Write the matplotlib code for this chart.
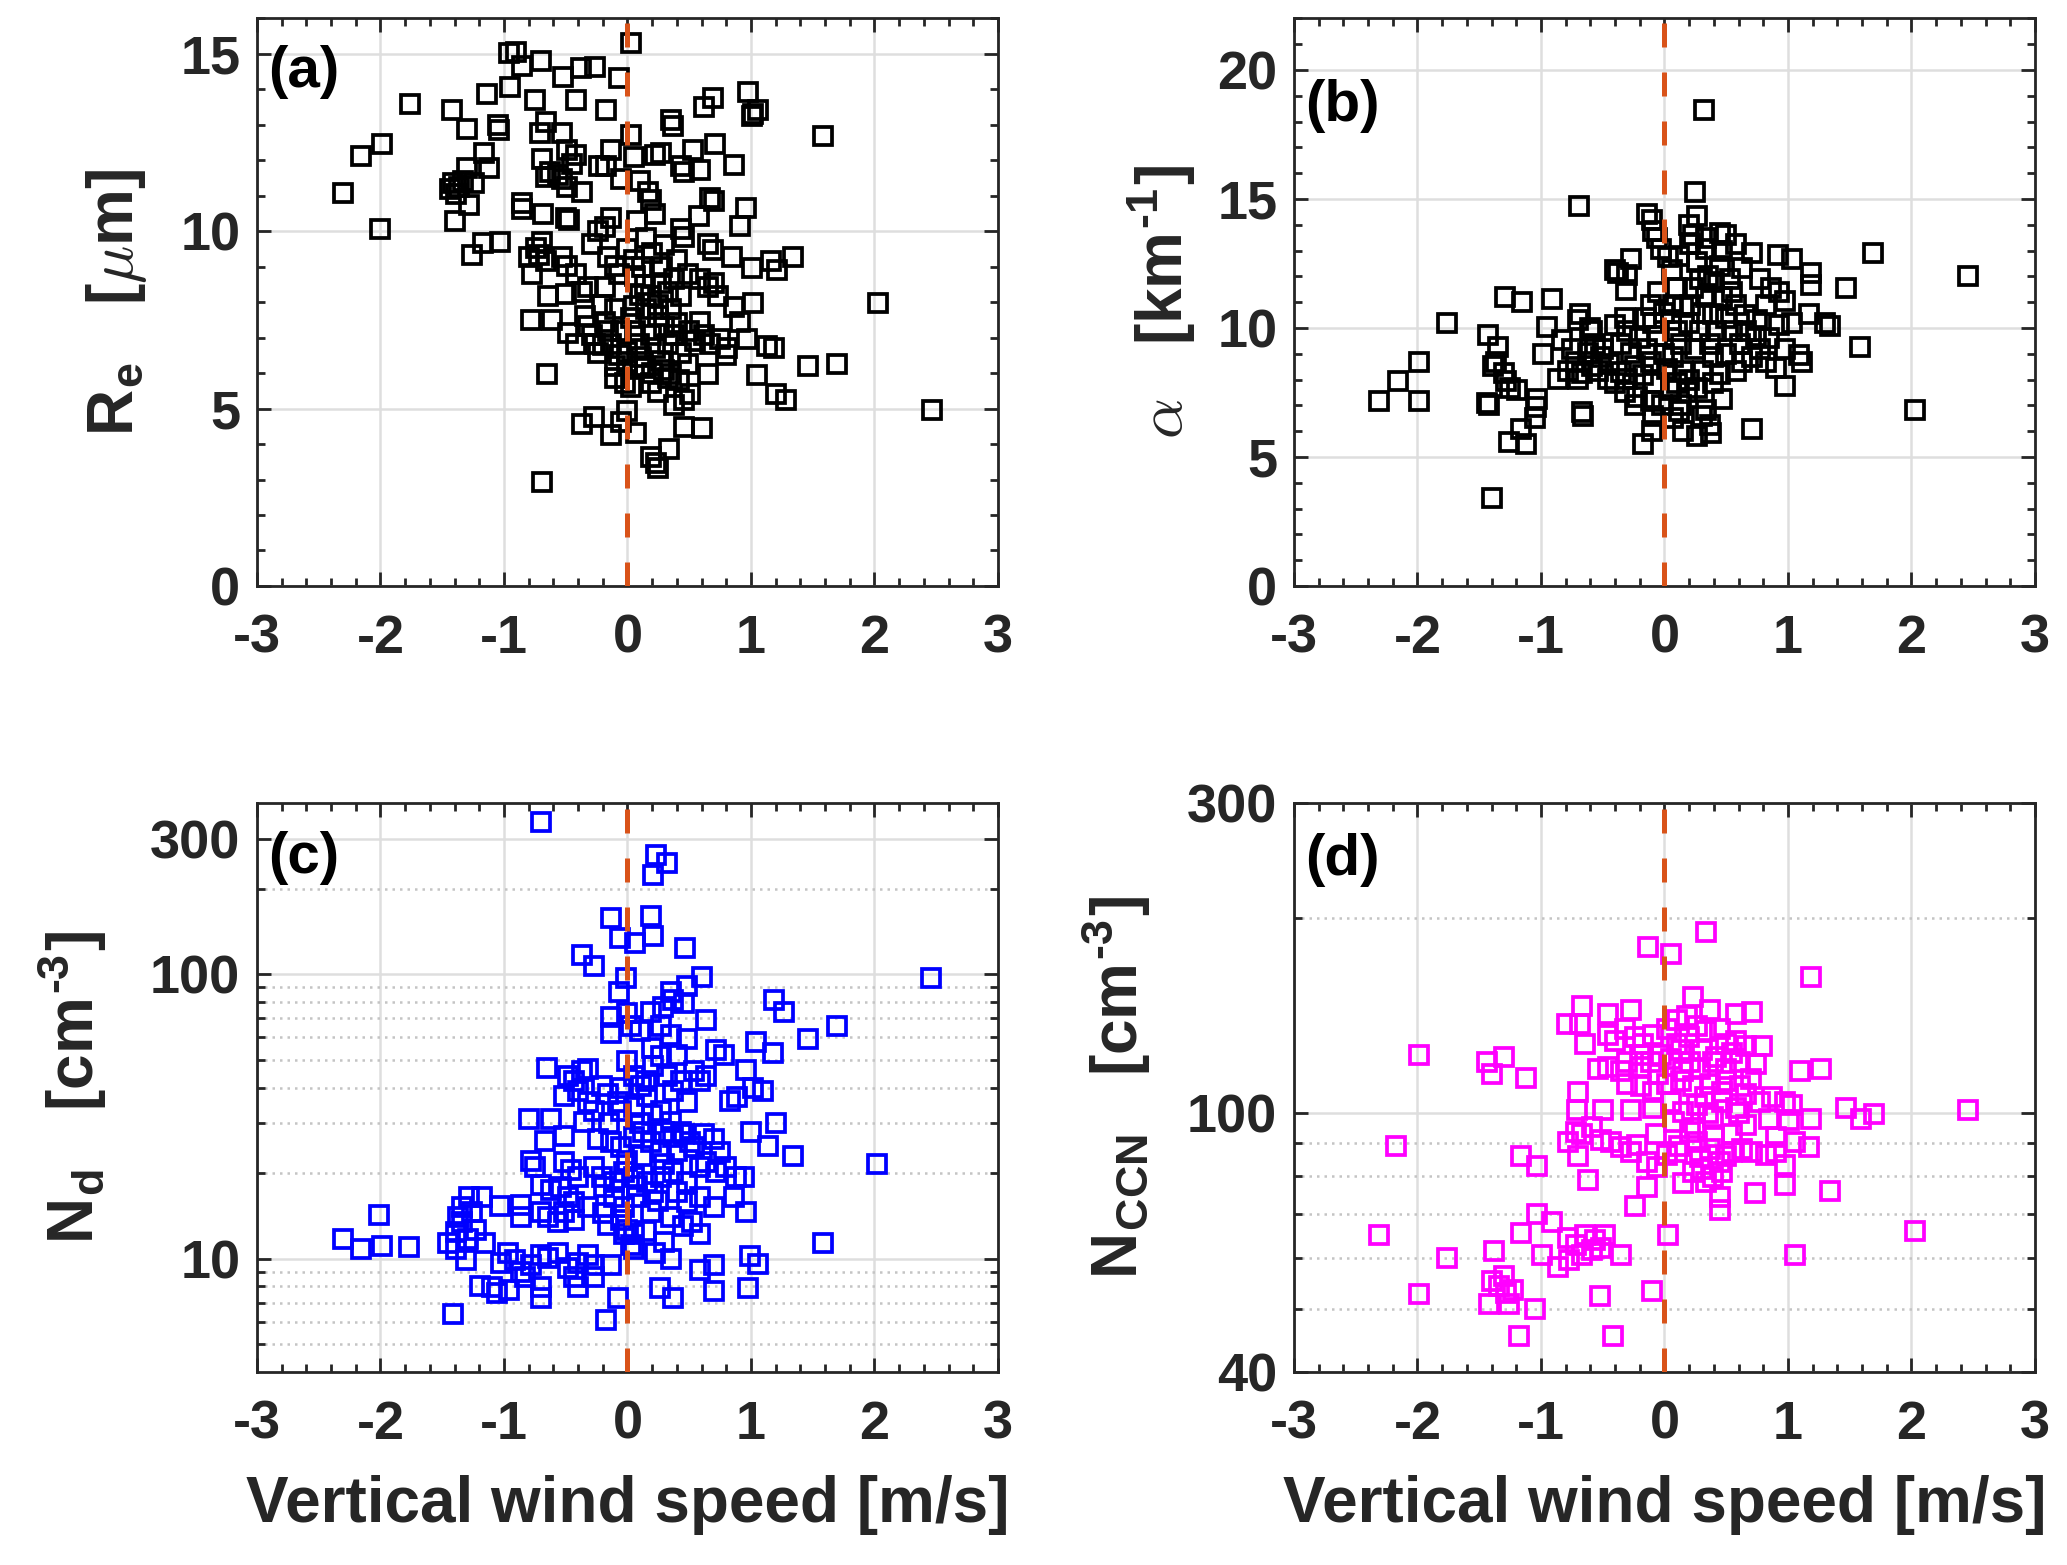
import numpy as np
import matplotlib
matplotlib.use("Agg")
import matplotlib.pyplot as plt
from matplotlib.ticker import FixedLocator, NullFormatter, MultipleLocator

# ---- data ----
# (a) effective radius vs vertical wind
w_re = [-2.30, -2.16, -1.99, -2.00, -1.76, -1.42, -1.30, -1.44, -1.41, -1.39,
        -1.36, -1.33, -1.28, -1.40, -1.24, -1.30, -1.12, -1.16, -1.14, -1.26,
        -1.17, -1.03, -1.05, -1.04, -0.96, -0.90, -0.95, -0.85, -0.75, -0.70,
        -0.66, -0.71, -0.53, -0.69, -0.63, -0.66, -0.49, -0.42, -0.52, -0.42,
        -0.38, -0.26, -0.07, -0.17, 0.03, 0.03, -0.13, 0.05, -0.23, -0.17,
        -0.45, -0.56, -0.53, -0.49, -0.37, -0.05, -0.85, -0.85, -0.68, -0.50,
        -0.47, 0.22, 0.27, 0.35, 0.37, 0.62, 0.69, 0.53, 0.71, 0.43,
        0.46, 0.59, 0.86, 0.98, 1.02, 1.06, 1.01, 1.58, 0.10, 0.17,
        0.19, 0.22, 0.67, 0.70, 0.96, 0.91, 0.58, 0.43, 0.46, 0.65,
        0.69, 0.85, 1.01, 1.16, 1.21, 1.34, -0.29, -0.24, -0.18, -0.13,
        -0.80, -0.74, -0.72, -0.69, -0.66, -0.77, -0.53, -0.49, -0.42, -0.64,
        -0.50, -0.37, -0.32, -0.16, -0.10, -0.07, -0.18, 0.06, 0.14, 0.19,
        0.25, 0.27, 0.33, 0.38, 0.43, 0.49, 0.59, 0.65, 0.70, 0.73,
        1.02, 0.86, 2.03, -0.78, -0.61, -0.48, -0.42, -0.34, -0.32, -0.29,
        -0.26, -0.24, -0.21, -0.18, -0.16, -0.13, -0.07, -0.10, 0.03, 0.06,
        0.09, 0.11, 0.14, 0.19, 0.22, 0.27, 0.33, 0.38, 0.43, 0.49,
        0.35, 0.59, 0.62, 0.67, 0.75, 0.81, 0.91, 0.97, 1.13, 1.19,
        0.80, 0.65, 1.05, 1.20, 1.28, 1.46, 1.70, 2.47, -0.65, -0.10,
        -0.02, 0.03, 0.19, 0.25, 0.33, 0.38, 0.46, 0.51, -0.37, -0.27,
        -0.13, -0.05, 0.00, 0.07, 0.46, 0.60, 0.19, 0.23, 0.25, 0.34,
        -0.69,
        0.00, 0.05, 0.12, 0.20, 0.30, 0.28, 0.40, 0.15, 0.25, 0.35,
        0.40, 0.50, 0.55, 0.30, -0.05, -0.20, 0.00, 0.10, 0.20, 0.30,
        0.42, 0.00, 0.05, 0.10, -0.10, 0.15, 0.08]
re = [11.08, 12.12, 12.46, 10.05, 13.59, 13.42, 12.88, 11.18, 11.36, 11.05,
      11.24, 11.42, 10.75, 10.28, 11.36, 11.79, 11.79, 12.22, 13.87, 9.34,
      9.68, 9.71, 13.00, 12.85, 15.04, 15.06, 14.06, 14.67, 13.71, 14.79,
      13.08, 12.77, 12.77, 12.03, 11.67, 11.54, 12.28, 12.16, 14.36, 13.71,
      14.61, 14.63, 14.33, 13.42, 15.32, 12.71, 12.28, 12.10, 11.85, 11.85,
      11.91, 11.60, 11.48, 11.24, 11.12, 11.48, 10.81, 10.62, 10.50, 10.38,
      10.32, 12.16, 12.22, 13.14, 12.98, 13.50, 13.75, 12.28, 12.46, 11.85,
      11.67, 11.73, 11.87, 13.93, 13.30, 13.42, 13.24, 12.68, 11.42, 11.10,
      10.87, 10.50, 10.93, 10.85, 10.65, 10.16, 10.44, 10.07, 9.83, 9.65,
      9.46, 9.28, 8.97, 9.15, 8.91, 9.28, 9.65, 10.01, 10.13, 10.38,
      9.28, 9.52, 9.34, 9.71, 9.15, 8.79, 9.28, 9.03, 8.79, 8.17,
      8.24, 8.30, 8.42, 9.28, 9.03, 8.79, 8.42, 8.73, 8.48, 8.17,
      7.93, 8.54, 8.30, 8.66, 8.17, 8.79, 8.66, 8.42, 8.54, 8.17,
      7.99, 7.87, 7.99, 7.50, 7.50, 7.13, 6.83, 7.62, 7.32, 7.07,
      6.83, 6.58, 7.93, 7.44, 7.19, 6.83, 6.52, 6.21, 7.56, 7.19,
      6.83, 6.46, 6.15, 7.07, 6.70, 6.34, 6.83, 7.07, 6.58, 6.27,
      5.97, 7.44, 7.07, 6.83, 6.95, 6.70, 7.44, 6.95, 6.76, 6.70,
      6.52, 5.97, 5.94, 5.42, 5.23, 6.21, 6.25, 4.96, 5.97, 5.85,
      5.72, 5.60, 5.72, 5.48, 5.85, 5.11, 5.23, 5.42, 4.56, 4.77,
      4.25, 4.62, 4.93, 4.31, 4.47, 4.44, 3.64, 3.46, 3.33, 3.86,
      2.93,
      9.5, 9.2, 9.0, 9.4, 9.6, 9.0, 9.2, 7.8, 7.6, 7.8,
      7.4, 7.2, 6.9, 7.3, 7.2, 6.8, 6.6, 6.2, 6.0, 6.1,
      5.8, 6.3, 7.9, 8.2, 7.8, 9.8, 10.3]

# (b) extinction coefficient
w_alpha = [-2.31, -2.16, -1.99, -1.99, -1.76, -1.43, -1.35, -1.39, -1.36, -1.30,
           -1.28, -1.25, -1.19, -1.42, -1.44, -1.29, -1.15, -0.91, -1.03, -1.04,
           -1.05, -1.16, -1.26, -1.12, -1.40, -0.95, -0.98, -0.86, -0.83, -0.75,
           -0.72, -0.78, -0.67, -0.70, -0.69, -0.67, -0.66, -0.68, -0.70, -0.59,
           -0.56, -0.51, -0.54, -0.46, -0.40, -0.62, -0.59, -0.40, -0.38, -0.27,
           -0.30, -0.31, -0.40, -0.32, -0.30, -0.35, -0.27, -0.24, -0.30, -0.32,
           -0.22, -0.24, -0.14, -0.10, -0.09, -0.06, -0.03, -0.17, -0.10, -0.11,
           -0.09, -0.06, -0.14, -0.11, -0.17, -0.09, -0.11, -0.09, 0.03, 0.06,
           0.10, 0.07, 0.05, 0.10, 0.13, 0.07, 0.15, 0.10, 0.18, 0.13,
           0.07, 0.15, 0.25, 0.32, 0.26, 0.20, 0.23, 0.21, 0.34, 0.45,
           0.50, 0.47, 0.58, 0.34, 0.26, 0.29, 0.34, 0.39, 0.23, 0.21,
           0.45, 0.53, 0.47, 0.58, 0.63, 0.71, 0.77, 0.82, 0.29, 0.37,
           0.39, 0.31, 0.26, 0.39, 0.47, 0.34, 0.26, 0.37, 0.55, 0.61,
           0.66, 0.74, 0.63, 0.71, 0.58, 0.77, 0.82, 0.71, 0.92, 1.03,
           0.86, 0.93, 0.98, 0.93, 1.03, 1.17, 1.19, 1.19, 1.30, 1.34,
           0.98, 1.09, 1.11, 0.90, 0.98, 1.47, 1.58, 1.69, 2.03, 2.46,
           0.38,
           -0.50, -0.45, -0.20, -0.15, 0.00, 0.00, 0.02, 0.05, 0.15, 0.20,
           0.25, 0.30, 0.40, 0.42, 0.50, 0.50, 0.55, 0.65, 0.75, 0.85,
           -0.05, 0.12, 0.35, -0.60, -0.35, 0.20, 0.45, 0.30, 0.12, -0.02]
alpha = [7.17, 7.93, 7.17, 8.69, 10.21, 9.74, 9.28, 8.52, 8.69, 8.27,
         7.93, 7.68, 7.60, 7.00, 7.09, 11.22, 11.00, 11.14, 7.26, 6.92,
         6.50, 6.08, 5.57, 5.49, 3.41, 10.04, 8.99, 8.02, 9.54, 9.20,
         8.69, 8.35, 8.27, 8.02, 14.73, 6.75, 6.58, 10.55, 10.30, 9.87,
         9.37, 8.86, 8.35, 8.02, 7.85, 9.03, 8.52, 12.24, 12.15, 12.66,
         12.07, 11.48, 10.13, 10.38, 9.87, 9.37, 9.03, 8.52, 8.02, 7.51,
         7.34, 7.00, 14.43, 14.18, 13.75, 13.50, 13.08, 5.49, 5.99, 10.89,
         10.21, 9.70, 9.20, 8.69, 8.19, 7.85, 7.17, 6.58, 12.74, 12.24,
         11.56, 10.89, 10.30, 9.87, 9.37, 8.86, 8.35, 7.85, 7.51, 7.00,
         6.50, 5.99, 15.27, 18.45, 14.35, 14.00, 13.59, 13.25, 13.50, 13.67,
         13.59, 13.00, 13.25, 13.08, 12.57, 11.90, 11.22, 10.55, 11.56, 10.89,
         12.41, 11.90, 11.22, 10.89, 12.32, 12.91, 11.90, 10.89, 9.87, 9.37,
         8.86, 8.35, 7.68, 7.85, 7.26, 6.84, 5.82, 6.24, 9.87, 9.37,
         9.87, 9.70, 8.69, 8.86, 8.35, 9.20, 8.69, 6.08, 12.83, 12.66,
         11.56, 11.39, 11.05, 10.13, 10.21, 10.55, 12.15, 11.65, 10.21, 10.08,
         9.20, 8.95, 8.69, 8.44, 7.76, 11.56, 9.25, 12.91, 6.84, 12.02,
         5.91,
         9.2, 8.6, 9.6, 10.4, 10.6, 9.0, 8.4, 7.6, 10.8, 10.2,
         9.2, 10.6, 11.8, 9.9, 10.4, 9.0, 11.4, 10.5, 10.3, 9.6,
         11.4, 12.8, 12.0, 10.0, 8.3, 8.0, 8.2, 6.6, 6.8, 7.0]

# (c) droplet number concentration
w_nd = [-0.70, 0.23, 0.32, 0.21, -0.13, 0.19, -0.06, 0.06, 0.21, 0.47,
        -0.37, -0.27, -0.01, -0.07, 0.60, 0.48, 0.35, 0.37, 0.46, 0.29,
        1.19, 1.27, 2.46, 1.70, 1.46, -0.13, -0.13, 0.00, 0.03, 0.19,
        0.10, 0.27, 0.35, 0.48, 0.64, 1.04, 1.18, 0.72, 0.78, 0.96,
        1.02, 1.10, 0.83, 0.89, -0.65, -0.48, -0.37, -0.32, -0.43, -0.51,
        -0.40, -0.32, -0.27, -0.35, -0.21, -0.16, -0.08, 0.00, 0.05, 0.11,
        0.16, 0.05, -0.05, 0.21, 0.27, 0.32, 0.37, 0.43, 0.48, 0.54,
        0.59, 0.64, 0.27, 0.35, 0.43, 0.51, -0.80, -0.62, -0.67, -0.51,
        -0.24, -0.13, -0.05, 0.05, 0.13, 0.19, 0.27, 0.37, 0.46, 0.54,
        0.62, 0.70, 0.75, 0.64, 1.00, 1.14, 1.20, 1.34, 2.02, -0.78,
        -0.75, -0.51, -0.46, -0.40, -0.27, -0.21, -0.11, -0.03, 0.05, 0.16,
        0.21, 0.27, 0.37, 0.48, 0.59, 0.72, 0.80, 0.88, 0.94, -0.70,
        -0.62, -0.54, -0.48, -0.43, -0.19, -0.11, -0.03, 0.08, 0.19, 0.40,
        0.48, 0.59, 0.70, 0.86, 0.96, -1.28, -1.34, -1.18, -1.03, -0.86,
        -0.86, -0.70, -0.64, -0.56, -0.51, -0.43, -0.32, -0.16, -0.05, 0.00,
        0.05, -2.01, -2.30, -2.16, -1.99, -1.77, -1.45, -1.39, -1.34, -1.29,
        -1.23, -1.15, -1.39, -1.31, -1.26, -1.37, -0.97, -0.91, -1.02, -0.86,
        -0.78, -0.70, -0.64, -0.56, -0.48, -0.40, -0.32, -0.27, -0.13, -0.03,
        0.03, 0.05, 0.22, 0.35, 0.59, 0.52, 1.58, 0.99, 1.06, 0.59,
        0.70, -1.19, -1.10, -1.06, -0.96, -0.83, -0.70, -0.70, -0.40, -0.43,
        -0.27, 0.26, 0.37, 0.70, 0.98, -0.08, -1.41, -0.17,
        0.10, 0.20, 0.30, 0.00, 0.12, 0.30, 0.40, -0.15, -0.05, 0.20,
        0.40, 0.15, 0.08, 0.25, 0.35, 0.45, -0.20, 0.15, 0.30]
nd = [344, 262, 247, 223, 158, 160, 134, 129, 136, 124,
      117, 107, 97, 87, 98, 91, 87, 81, 79, 77,
      81, 74, 97, 66, 59, 71, 62, 73, 66, 74,
      63, 66, 61, 59, 69, 58, 53, 54, 52, 46,
      40, 39, 36, 37, 47, 43.8, 45.6, 46.6, 42, 37.2,
      38.8, 35.7, 33, 30.3, 40.4, 38, 35.7, 49.5, 43.8, 40.4,
      37.2, 34.3, 33, 47.5, 51.5, 43.8, 38.8, 42, 35.7, 45.6,
      42, 43.8, 33, 30.3, 28, 25.8, 31, 31, 26, 27,
      26.3, 25.8, 24.8, 26.9, 28, 25.8, 23.8, 26.9, 27.4, 24.8,
      27.4, 26.3, 23.8, 21.9, 28, 25, 30, 23, 21.5, 22,
      21, 21.9, 20.6, 19.4, 21, 19.4, 18.6, 20.2, 19.4, 18.6,
      17.2, 19.4, 20.2, 18.6, 21, 20.2, 21, 19.4, 19.4, 18.2,
      17.5, 17.9, 16.5, 15.8, 17.9, 16.5, 15.2, 16.5, 14.6, 17.2,
      15.8, 16.5, 15.2, 16.5, 14.6, 16.5, 15.2, 16.5, 15.3, 15.5,
      14.0, 14.6, 14.0, 13.5, 14.6, 13.7, 15.2, 13.2, 13.7, 12.6,
      12.2, 14.3, 11.7, 10.8, 11.1, 11.0, 11.4, 12.4, 13.5, 11.7,
      12.6, 11.4, 10.8, 9.9, 14.6, 14.0, 10.5, 9.9, 9.7, 9.0,
      9.5, 10.3, 10.1, 10.5, 9.3, 9.7, 10.3, 9.5, 9.5, 12.2,
      11.2, 10.8, 10.5, 10.0, 12.2, 13.5, 11.4, 10.2, 9.6, 9.1,
      9.5, 8.0, 7.95, 7.6, 7.8, 8.6, 7.95, 7.3, 7.95, 8.6,
      8.6, 7.9, 7.3, 7.7, 7.9, 7.3, 6.4, 6.1,
      30, 32, 28, 22, 23, 21.5, 24, 30, 40, 55,
      52, 42, 18, 16, 14, 13, 14.5, 12.5, 11.5]

# (d) CCN number concentration
w_ccn = [0.34, -0.13, 0.05, 1.19, 0.23, -0.67, -0.79, -0.68, -0.46, -0.27,
         0.37, 0.58, 0.71, -0.64, -0.46, -0.40, -0.32, -0.24, -0.17, -0.09,
         0.02, 0.10, 0.18, 0.26, 0.34, 0.45, 0.50, 0.58, 0.66, 0.79,
         -1.99, -1.44, -1.30, -1.40, -1.12, -0.54, -0.46, -0.35, -0.30, -0.19,
         -0.11, -0.03, 0.05, 0.13, 0.21, 0.29, 0.39, 0.50, 0.61, 0.74,
         -0.30, -0.19, -0.09, 0.02, 0.13, 0.23, 0.37, 0.47, 0.61, 1.10,
         1.27, -0.70, -0.71, -0.50, -0.27, -0.09, 0.05, 0.15, 0.26, 0.39,
         0.47, 0.58, 0.66, 0.77, 0.87, 0.98, 1.03, 1.19, 1.01, 1.47,
         1.59, 1.70, 2.46, 0.66, -0.07, -0.78, -0.72, -0.67, -0.59, -0.51,
         -0.43, -0.35, -0.27, -0.22, -2.17, -1.16, -1.03, -0.70, -0.14, -0.06,
         0.02, 0.10, 0.21, 0.26, 0.29, 0.37, 0.45, 0.55, 0.63, 0.71,
         0.82, 0.90, 0.98, 1.06, 1.17, 0.23, 0.34, 0.39, 0.47, 0.45,
         0.45, 0.15, -0.62, -0.14, -0.24, 0.73, 0.98, 1.34, -1.03, -0.91,
         -1.16, 0.03, 2.03, -2.31, -0.78, -0.72, -0.64, -0.56, -0.48, -0.59,
         -0.67, -0.51, -0.99, -0.86, -0.77, -0.35, -1.38, -1.76, 1.06, -1.30,
         -1.40, -1.34, -1.28, -1.23, -1.42, -1.26, -1.99, -1.05, -0.52, -0.10,
         -1.18, -0.42,
         0.10, 0.20, 0.30, 0.42, 0.55, 0.15, 0.33, 0.50, 0.08, 0.25,
         0.40, 0.55, 0.12, 0.30, 0.50, -0.20, -0.05, 0.70, 0.85, 0.90,
         0.60, 0.35]
nccn = [190, 180, 176, 162, 151, 146, 137, 137, 142, 144,
        144, 142, 143, 128, 132, 129, 135, 131, 128, 132,
        135, 139, 141, 136, 134, 135, 128, 129, 127, 127,
        123, 120, 122, 115, 113.5, 117, 118, 116, 120, 118,
        120, 123, 121, 125, 120, 117, 120, 117, 120, 119,
        111, 110, 108, 111, 112, 110, 111, 108, 110, 116,
        117, 108, 101, 101, 101, 102, 104, 100.5, 103, 98.8,
        104, 102, 107, 104, 106, 104, 103, 98, 97.6, 102,
        98, 99.6, 101, 96, 93, 90.4, 93.6, 93, 95.3, 91,
        90.4, 88.7, 87.1, 89.5, 89, 86, 83, 86, 84.1, 82.6,
        86.4, 87.1, 93.6, 90.4, 85.6, 88, 84.1, 87.1, 88, 87.1,
        86.4, 87.1, 83.4, 90.4, 88.7, 81.2, 78.3, 79.8, 81.2, 74.3,
        71, 78, 79, 77, 72, 75.5, 77.6, 76, 70, 68,
        65.5, 65, 66, 65, 64.4, 62.7, 65, 63.8, 65, 61.6,
        60.5, 62.1, 60.5, 58, 59.4, 60.5, 61.5, 60, 60.5, 56.3,
        55.3, 54.3, 52.9, 53.4, 50.9, 50.9, 52.7, 50, 52.3, 53.2,
        45.5, 45.5,
        128, 131, 125, 122, 124, 116, 106, 112, 97, 95,
        92, 93, 89, 82, 86, 123, 115, 113, 98, 92,
        100, 100]

x_ticks = [-3, -2, -1, 0, 1, 2, 3]

TXT = '#262626'
plt.rcParams['font.family'] = ['Liberation Sans', 'DejaVu Sans']
plt.rcParams['font.weight'] = 'bold'
plt.rcParams['mathtext.fontset'] = 'cm'
plt.rcParams['axes.unicode_minus'] = False
plt.rcParams['axes.linewidth'] = 2.0
plt.rcParams['axes.edgecolor'] = TXT

fig = plt.figure(figsize=(20.67, 15.65), dpi=100)
ax_a = fig.add_axes([0.1243, 0.6256, 0.3585, 0.3626])
ax_b = fig.add_axes([0.6260, 0.6256, 0.3585, 0.3626])
ax_c = fig.add_axes([0.1243, 0.1233, 0.3585, 0.3636])
ax_d = fig.add_axes([0.6260, 0.1233, 0.3585, 0.3636])


def style_axes(ax, x, y, color, tag, tag_y, ylabel, ylab_x):
    ax.set_axisbelow(True)
    ax.plot(x, y, 's', mfc='none', mec=color, ms=12.5, mew=2.7, zorder=2)
    ax.axvline(0, color='#D95319', lw=3.6, ls=(0, (4.8, 5)), zorder=3)
    ax.set_xlim(-3, 3)
    ax.set_xticks(x_ticks)
    ax.set_xticklabels([str(t) for t in x_ticks])
    ax.xaxis.set_minor_locator(MultipleLocator(0.2))
    ax.grid(True, which='major', color='#dedede', lw=1.8)
    ax.tick_params(which='both', direction='in', top=True, right=True,
                   colors=TXT, width=2, labelsize=39)
    ax.tick_params(which='major', length=10)
    ax.tick_params(which='minor', length=6)
    ax.tick_params(axis='x', pad=20)
    ax.tick_params(axis='y', pad=12)
    for lab in ax.get_xticklabels() + ax.get_yticklabels():
        lab.set_fontweight('bold')
    ax.text(0.015, tag_y, tag, transform=ax.transAxes, fontsize=42,
            fontweight='bold', color='black', ha='left', va='center')
    ax.set_ylabel(ylabel, fontsize=46, fontweight='bold', color=TXT)
    ax.yaxis.set_label_coords(ylab_x, 0.5)


style_axes(ax_a, w_re, re, 'black', '(a)', 0.905,
           r'R$_\mathregular{e}$   [$\mu$m]', -0.145)
ax_a.set_ylim(0, 16)
ax_a.set_yticks([0, 5, 10, 15])
ax_a.yaxis.set_minor_locator(MultipleLocator(1))

style_axes(ax_b, w_alpha, alpha, 'black', '(b)', 0.845,
           '$\\alpha$   [km$^\\mathregular{\u2010 1}$]', -0.13)
ax_b.set_ylim(0, 22)
ax_b.set_yticks([0, 5, 10, 15, 20])
ax_b.yaxis.set_minor_locator(MultipleLocator(1))

style_axes(ax_c, w_nd, nd, 'blue', '(c)', 0.903,
           'N$_\\mathregular{d}$   [cm$^\\mathregular{\u2010 3}$]', -0.20)
ax_c.set_yscale('log')
ax_c.set_ylim(4, 400)
ax_c.yaxis.set_major_locator(FixedLocator([10, 100, 300]))
ax_c.set_yticklabels(['10', '100', '300'], fontweight='bold')
ax_c.yaxis.set_minor_locator(FixedLocator([5, 6, 7, 8, 9, 20, 30, 40, 50,
                                           60, 70, 80, 90, 200]))
ax_c.yaxis.set_minor_formatter(NullFormatter())
ax_c.yaxis.grid(True, which='minor', color='#c4c4c4', lw=1.8, ls=(0, (1, 2)))

style_axes(ax_d, w_ccn, nccn, 'magenta', '(d)', 0.90,
           'N$_\\mathregular{CCN}$   [cm$^\\mathregular{\u2010 3}$]', -0.19)
ax_d.set_yscale('log')
ax_d.set_ylim(40, 300)
ax_d.yaxis.set_major_locator(FixedLocator([40, 100, 300]))
ax_d.set_yticklabels(['40', '100', '300'], fontweight='bold')
ax_d.yaxis.set_minor_locator(FixedLocator([50, 60, 70, 80, 90, 200]))
ax_d.yaxis.set_minor_formatter(NullFormatter())
ax_d.yaxis.grid(True, which='minor', color='#c4c4c4', lw=1.8, ls=(0, (1, 2)))

for ax in (ax_c, ax_d):
    ax.set_xlabel('Vertical wind speed [m/s]', fontsize=46,
                  fontweight='bold', color=TXT)
    ax.xaxis.set_label_coords(0.5, -0.181)

fig.savefig('out.png', dpi=100)
